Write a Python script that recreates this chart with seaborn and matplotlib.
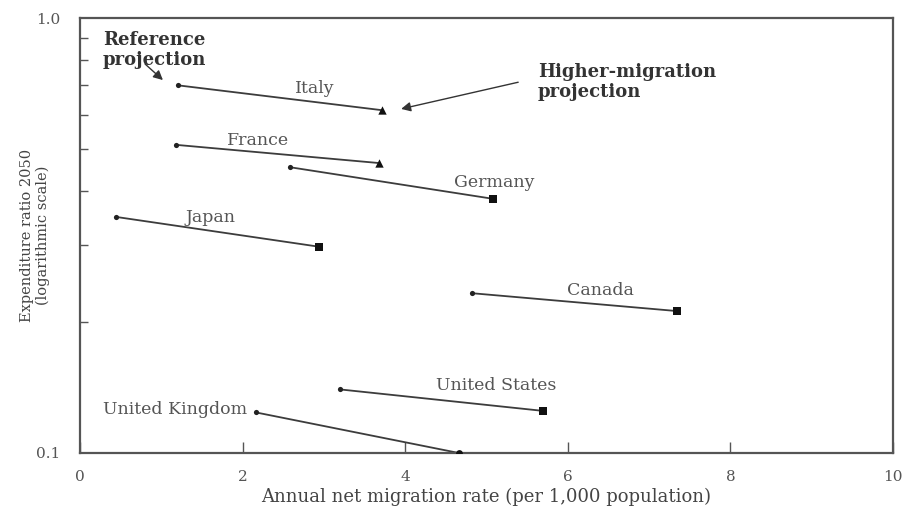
import matplotlib
matplotlib.use("Agg")
import matplotlib.pyplot as plt
import seaborn as sns
import pandas as pd

countries = ["Italy", "France", "Germany", "Japan", "Canada", "United States", "United Kingdom"]
ref_x = [1.21, 1.18, 2.58, 0.44, 4.82, 3.20, 2.16]
ref_y = [0.700, 0.511, 0.454, 0.349, 0.233, 0.140, 0.124]
high_x = [3.71, 3.68, 5.08, 2.94, 7.34, 5.69, 4.66]
high_y = [0.614, 0.464, 0.384, 0.298, 0.212, 0.125, 0.100]
high_marker = ["^", "^", "s", "s", "s", "s", "o"]
label_x = [2.89, 2.19, 5.09, 1.61, 6.40, 5.12, 1.17]
label_y = [0.690, 0.524, 0.418, 0.347, 0.236, 0.1426, 0.126]
x_ticks = [0, 2, 4, 6, 8, 10]
y_ticks = [0.1, 1.0]
y_minor = [0.2, 0.3, 0.4, 0.5, 0.6, 0.7, 0.8, 0.9]

sns.set_theme(style="white")
plt.rcParams["font.family"] = ["DejaVu Serif"]

rows = []
for i, c in enumerate(countries):
    rows.append({"country": c, "scenario": "Reference", "x": ref_x[i], "y": ref_y[i]})
    rows.append({"country": c, "scenario": "Higher", "x": high_x[i], "y": high_y[i]})
df = pd.DataFrame(rows)

fig = plt.figure(figsize=(9.06, 5.13), dpi=100)
ax = fig.add_axes([80/906, 1-453/513, (893-80)/906, (453-18)/513])

ink = "#3c3c3c"
sns.lineplot(data=df, x="x", y="y", units="country", estimator=None, sort=False,
             color=ink, linewidth=1.3, ax=ax, legend=False)
sns.scatterplot(data=df[df.scenario == "Reference"], x="x", y="y", color="#222222",
                marker="o", s=14, linewidth=0, ax=ax, legend=False, zorder=3)
hi = df[df.scenario == "Higher"].copy()
hi["marker"] = high_marker
for m in sorted(set(high_marker)):
    sub = hi[hi.marker == m]
    sns.scatterplot(data=sub, x="x", y="y", color="#111111", marker=m,
                    s=36 if m == "^" else (30 if m == "s" else 24),
                    linewidth=0, ax=ax, legend=False, zorder=3)

ax.set_yscale("log")
ax.set_xlim(0, 10)
ax.set_ylim(0.1, 1.0)
ax.set_xticks(x_ticks)
ax.set_xticklabels([str(t) for t in x_ticks], fontsize=11, color="#555555")
ax.set_yticks(y_ticks)
ax.set_yticklabels(["0.1", "1.0"], fontsize=11, color="#555555")
ax.set_yticks(y_minor, minor=True)
ax.set_yticklabels([], minor=True)
ax.tick_params(axis="x", which="major", direction="in", length=8, width=1.0,
               color="#555555", bottom=True, pad=12)
ax.tick_params(axis="y", which="major", length=0, pad=14)
ax.tick_params(axis="y", which="minor", direction="in", length=6, width=1.0,
               color="#555555", left=True)
for sp in ax.spines.values():
    sp.set_visible(True)
    sp.set_color("#555555")
    sp.set_linewidth(1.6)

ax.set_xlabel("Annual net migration rate (per 1,000 population)", fontsize=13,
              color="#444444", labelpad=3)
ax.set_ylabel("Expenditure ratio 2050\n(logarithmic scale)", fontsize=10.5,
              color="#444444", linespacing=1.15)
ax.yaxis.set_label_coords(-0.037, 0.5)

for c, lx, ly in zip(countries, label_x, label_y):
    ax.text(lx, ly, c, fontsize=12.5, color="#555555", ha="center", va="center")

ax.text(0.28, 0.935, "Reference\nprojection", fontsize=13, fontweight="bold",
        color="#333333", ha="left", va="top", linespacing=1.15)
ax.annotate("", xy=(1.02, 0.72), xytext=(0.80, 0.784),
            arrowprops=dict(arrowstyle="-|>", color="#333333", lw=1.0,
                            shrinkA=0, shrinkB=0, mutation_scale=14))
ax.annotate("Higher-migration\nprojection", xy=(3.95, 0.618), xytext=(5.63, 0.79),
            fontsize=13, fontweight="bold", color="#333333", ha="left", va="top",
            linespacing=1.15,
            arrowprops=dict(arrowstyle="-|>", color="#333333", lw=1.0,
                            shrinkA=12, shrinkB=0, mutation_scale=14,
                            relpos=(0, 0.6)))

fig.savefig("out.png", dpi=100)
